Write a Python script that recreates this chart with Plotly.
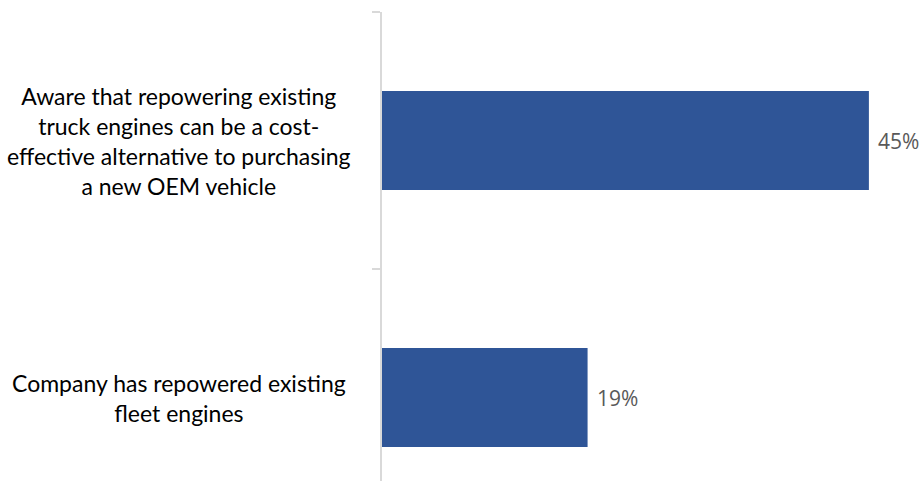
import plotly.graph_objects as go

# Survey statements and share of respondents
categories = [
    "Aware that repowering existing<br>truck engines can be a cost-<br>effective alternative to purchasing<br>a new OEM vehicle",
    "Company has repowered existing<br>fleet engines",
]
values = [45, 19]
value_labels = ["45%", "19%"]

positions = list(range(len(categories)))

fig = go.Figure()
fig.add_trace(go.Bar(
    x=values,
    y=positions,
    orientation="h",
    width=0.385,
    marker=dict(color="#2F5597", line=dict(width=0)),
    hoverinfo="skip",
))

# Category labels, centred to the left of the axis
for pos, label in zip(positions, categories):
    fig.add_annotation(
        x=-0.375, xref="paper", y=pos, yref="y",
        text=label, showarrow=False, align="center",
        xanchor="center", yanchor="middle",
        font=dict(family="Lato, Calibri, sans-serif", size=23, color="#000000"),
    )

# Value labels just past the end of each bar
for pos, val, lab in zip(positions, values, value_labels):
    fig.add_annotation(
        x=val, y=pos, xref="x", yref="y",
        text=lab, showarrow=False, xanchor="left", yanchor="middle",
        xshift=7,
        font=dict(family="Open Sans, sans-serif", size=21, color="#595959"),
    )

fig.update_layout(
    width=923, height=481,
    margin=dict(l=382, r=0, t=12, b=0),
    paper_bgcolor="white", plot_bgcolor="white",
    showlegend=False,
    xaxis=dict(range=[0, 50], visible=False, fixedrange=True),
    yaxis=dict(
        range=[-0.5 + 469 / 257, -0.5],
        tickvals=positions, showticklabels=False, ticks="",
        showline=True, linecolor="#D9D9D9", linewidth=2,
        showgrid=False, zeroline=False,
        minor=dict(tickvals=[-0.5, 0.5, 1.5], ticks="outside",
                   ticklen=8, tickcolor="#D9D9D9", tickwidth=2, showgrid=False),
    ),
)

fig.write_html("out.html")
